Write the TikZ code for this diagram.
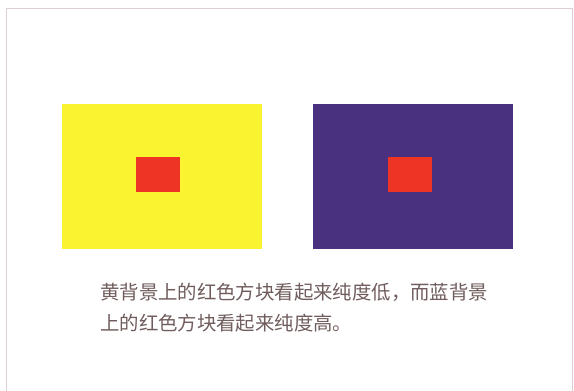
\documentclass[tikz,border=0pt]{standalone}
\usepackage{fontspec}
\newfontfamily\cjk{Noto Sans CJK SC}
\definecolor{bgyellow}{RGB}{249,243,48}
\definecolor{bgblue}{RGB}{74,49,128}
\definecolor{sqred}{RGB}{238,52,36}
\definecolor{txtgray}{RGB}{112,92,92}
\definecolor{frame}{RGB}{222,205,210}

\begin{document}
\begin{tikzpicture}[x=1pt,y=-1pt]
    \tikzstyle{backdrop}=[draw=none, inner sep=0pt, minimum width=200pt, minimum height=145pt]
    \tikzstyle{patch}=[draw=none, fill=sqred, inner sep=0pt, minimum width=44pt, minimum height=35pt]
    \tikzstyle{caption}=[text=txtgray, font=\cjk\fontsize{19.4}{25}\selectfont, anchor=west, inner sep=0pt]

    \useasboundingbox (0,0) rectangle (574,391);
    \draw[frame, line width=1pt] (6,400) -- (6,8.5) -- (572,8.5) -- (572,400);

    \node[backdrop, fill=bgyellow] (yel) at (162,176.5) {};
    \node[backdrop, fill=bgblue] (blu) at (413,176.5) {};
    \node[patch] (ry) at (158,174.5) {};
    \node[patch] (rb) at (410,174.5) {};

    \node[caption] (l1) at (100,292) {黄背景上的红色方块看起来纯度低，而蓝背景};
    \node[caption] (l2) at (100,323) {上的红色方块看起来纯度高。};
\end{tikzpicture}
\end{document}
